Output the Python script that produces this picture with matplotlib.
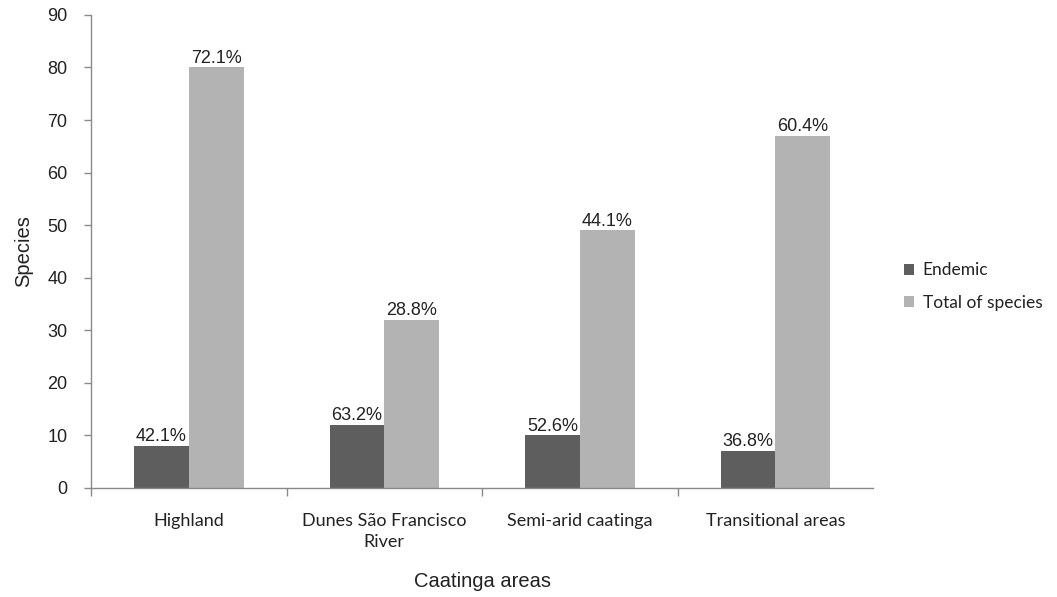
import matplotlib
matplotlib.use("Agg")
import matplotlib.pyplot as plt
import numpy as np

categories = ["Highland", "Dunes São Francisco\nRiver", "Semi-arid caatinga", "Transitional areas"]
endemic = [8, 12, 10, 7]
total_species = [80, 32, 49, 67]
endemic_pct = ["42.1%", "63.2%", "52.6%", "36.8%"]
total_pct = ["72.1%", "28.8%", "44.1%", "60.4%"]
y_ticks = [0, 10, 20, 30, 40, 50, 60, 70, 80, 90]

c_endemic = "#5e5e5e"
c_total = "#b3b3b3"
axis_col = "#8a8a8a"
text_col = "#222222"

fig = plt.figure(figsize=(10.57, 5.97), dpi=100)
ax = fig.add_axes([0.0861, 0.1826, 0.740, 0.7924])

x = np.arange(len(categories))
w = 0.28
b1 = ax.bar(x - w / 2, endemic, w, color=c_endemic, label="Endemic")
b2 = ax.bar(x + w / 2, total_species, w, color=c_total, label="Total of species")

for bars, labels in ((b1, endemic_pct), (b2, total_pct)):
    for rect, lab in zip(bars, labels):
        ax.annotate(lab, (rect.get_x() + rect.get_width() / 2, rect.get_height()),
                    xytext=(0, 0.5), textcoords="offset points", ha="center", va="bottom",
                    fontsize=13, family="Liberation Sans", color=text_col)

ax.set_xlim(-0.5, len(categories) - 0.5)
ax.set_ylim(0, 90)
ax.set_yticks(y_ticks)
ax.set_yticklabels([str(v) for v in y_ticks], family="Liberation Sans", fontsize=13, color=text_col)

ax.set_xticks(x)
ax.set_xticklabels(categories, family="Lato", fontsize=13, color=text_col, linespacing=1.35)
ax.tick_params(axis="x", length=0, pad=18)
ax.set_xticks(np.arange(len(categories)) - 0.5, minor=True)
ax.tick_params(axis="x", which="minor", length=6, width=1, color=axis_col, direction="out")
ax.tick_params(axis="y", length=5, width=1, color=axis_col, direction="out", pad=12)

for s in ["top", "right"]:
    ax.spines[s].set_visible(False)
for s in ["left", "bottom"]:
    ax.spines[s].set_color(axis_col)
    ax.spines[s].set_linewidth(1)

ax.set_ylabel("Species", family="Liberation Sans", fontsize=14.5, color=text_col, labelpad=10)
ax.set_xlabel("Caatinga areas", family="Liberation Sans", fontsize=14.5, color=text_col, labelpad=16)

leg = fig.legend(loc="center left", bbox_to_anchor=(0.840, 0.52), frameon=False,
                 prop={"family": "Lato", "size": 12.5}, handlelength=0.6, handleheight=0.6,
                 handletextpad=0.5, labelspacing=0.95)
for t in leg.get_texts():
    t.set_color(text_col)

fig.savefig("out.png", dpi=100, facecolor="white")
